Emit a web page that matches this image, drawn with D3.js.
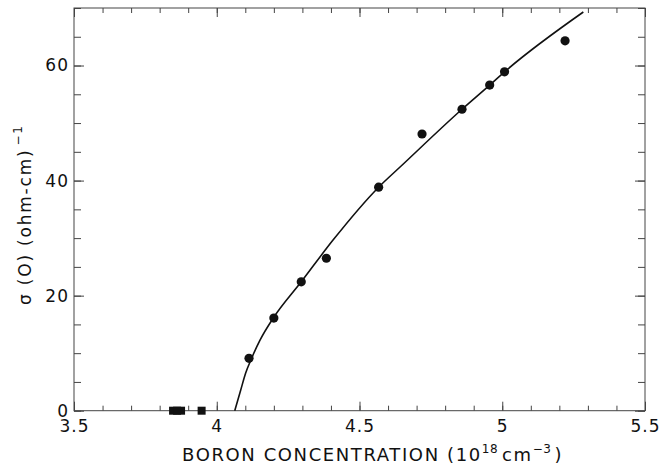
<!DOCTYPE html>
<html>
<head>
<meta charset="utf-8">
<script src="https://cdn.jsdelivr.net/npm/d3@7"></script>
<style>
  body { margin: 0; background: #fff; }
  svg { display: block; font-family: "DejaVu Sans", sans-serif; }
</style>
</head>
<body>
<div id="chart"></div>
<script>
// measured points (filled circles)
var dotX = [4.113, 4.200, 4.296, 4.384, 4.567, 4.719, 4.859, 4.956, 5.008, 5.220];
var dotY = [9.1, 16.1, 22.4, 26.5, 38.85, 48.1, 52.4, 56.6, 58.9, 64.3];
// insulating samples (squares on the zero line)
var squareX = [3.847, 3.861, 3.875, 3.947];
var squareY = [0, 0, 0, 0];
// fitted curve
var curveX = [4.063, 4.084, 4.101, 4.122, 4.152, 4.198, 4.296, 4.408, 4.567, 4.643, 4.859, 4.956, 5.008, 5.284];
var curveY = [0, 3.6, 6.5, 9.1, 12.3, 16.1, 22.4, 29.7, 38.85, 42.4, 52.4, 56.6, 58.9, 69.3];
// labelled ticks
var xLabels = [3.5, 4, 4.5, 5, 5.5];
var yLabels = [0, 20, 40, 60];

(function () {
  var width = 671, height = 468;
  var margin = { top: 8, right: 26, bottom: 57.3, left: 74 };
  var iw = width - margin.left - margin.right;
  var ih = height - margin.top - margin.bottom;
  var ink = '#111', frame = '#444';

  var x = d3.scaleLinear().domain([3.5, 5.5]).range([0, iw]);
  var y = d3.scaleLinear().domain([0, 70]).range([ih, 0]);

  var svg = d3.select('#chart').append('svg').attr('width', width).attr('height', height);
  var g = svg.append('g').attr('transform', 'translate(' + margin.left + ',' + margin.top + ')');

  function noDomain(sel) { sel.select('.domain').remove(); sel.selectAll('line').attr('stroke', frame); }

  // minor ticks on all four sides
  g.append('g').attr('transform', 'translate(0,' + ih + ')')
    .call(d3.axisBottom(x).ticks(20).tickSize(-5).tickFormat('')).call(noDomain);
  g.append('g')
    .call(d3.axisTop(x).ticks(20).tickSize(-5).tickFormat('')).call(noDomain);
  g.append('g')
    .call(d3.axisLeft(y).ticks(14).tickSize(-7).tickFormat('')).call(noDomain);
  g.append('g').attr('transform', 'translate(' + iw + ',0)')
    .call(d3.axisRight(y).ticks(14).tickSize(-7).tickFormat('')).call(noDomain);

  // labelled major ticks
  var xb = g.append('g').attr('transform', 'translate(0,' + ih + ')')
    .call(d3.axisBottom(x).tickValues(xLabels).tickSize(-9).tickPadding(9).tickFormat(d3.format('')))
    .call(noDomain);
  g.append('g').call(d3.axisTop(x).tickValues(xLabels).tickSize(-9).tickFormat('')).call(noDomain);
  var yl = g.append('g')
    .call(d3.axisLeft(y).tickValues(yLabels).tickSize(-10).tickPadding(5).tickFormat(d3.format('d')))
    .call(noDomain);
  g.append('g').attr('transform', 'translate(' + iw + ',0)')
    .call(d3.axisRight(y).tickValues(yLabels).tickSize(-10).tickFormat('')).call(noDomain);

  [xb, yl].forEach(function (a) {
    a.selectAll('text').attr('fill', ink).attr('font-size', 17).attr('letter-spacing', 1)
      .attr('font-family', '"DejaVu Sans", sans-serif');
  });

  // frame
  g.append('rect').attr('width', iw).attr('height', ih)
    .attr('fill', 'none').attr('stroke', frame).attr('stroke-width', 1);

  // curve
  var pts = curveX.map(function (d, i) { return [d, curveY[i]]; });
  var line = d3.line().x(function (d) { return x(d[0]); }).y(function (d) { return y(d[1]); })
    .curve(d3.curveMonotoneX);
  g.append('path').datum(pts).attr('d', line)
    .attr('fill', 'none').attr('stroke', ink).attr('stroke-width', 1.6);

  // squares
  g.selectAll('rect.sq').data(squareX).enter().append('rect').attr('class', 'sq')
    .attr('x', function (d) { return x(d) - 4; })
    .attr('y', function (d, i) { return y(squareY[i]) - 4; })
    .attr('width', 8).attr('height', 8).attr('fill', ink);

  // dots
  g.selectAll('circle').data(dotX).enter().append('circle')
    .attr('cx', function (d) { return x(d); })
    .attr('cy', function (d, i) { return y(dotY[i]); })
    .attr('r', 4.6).attr('fill', ink);

  // x axis title
  var xt = svg.append('text').attr('x', 182).attr('y', 461).attr('fill', ink)
    .attr('font-size', 18).attr('letter-spacing', 1.6);
  xt.append('tspan').text('BORON CONCENTRATION (10');
  xt.append('tspan').attr('dy', -8).attr('font-size', 12).attr('letter-spacing', 0.5).text('18');
  xt.append('tspan').attr('dy', 8).attr('dx', 4).text('cm');
  xt.append('tspan').attr('dy', -8).attr('font-size', 12).attr('letter-spacing', 0.5).text('\u22123');
  xt.append('tspan').attr('dy', 8).attr('dx', 3).text(')');

  // y axis title
  var yt = svg.append('text').attr('transform', 'translate(31,305) rotate(-90)')
    .attr('fill', ink).attr('font-size', 17).attr('letter-spacing', 1.8);
  yt.append('tspan').text('\u03c3 (O) (ohm-cm)');
  yt.append('tspan').attr('dy', -9).attr('dx', 3).attr('font-size', 12).text('\u22121');
})();
</script>
</body>
</html>
